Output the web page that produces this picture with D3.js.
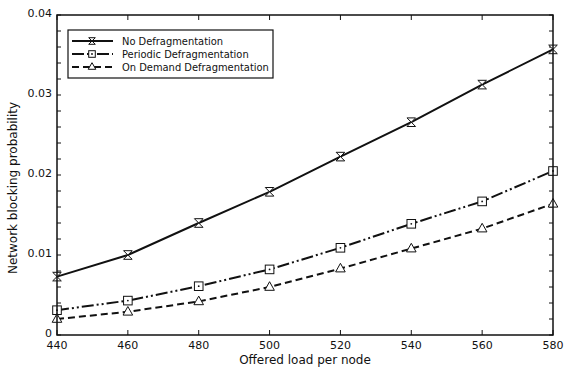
<!DOCTYPE html>
<html>
<head>
<meta charset="utf-8">
<script src="https://cdn.jsdelivr.net/npm/d3@7"></script>
<style>
  body { margin: 0; background: #fff; }
  text { font-family: "DejaVu Sans", Verdana, sans-serif; fill: #111; }
  text.legend-label { font-family: "DejaVu Sans Condensed", "DejaVu Sans", sans-serif; }
</style>
</head>
<body>
<div class="chart"></div>
<script>
var loads = [440, 460, 480, 500, 520, 540, 560, 580];
var noDefrag = [0.0073, 0.0100, 0.0140, 0.0179, 0.0223, 0.0266, 0.0313, 0.0357];
var periodicDefrag = [0.0031, 0.0043, 0.0061, 0.0082, 0.0109, 0.0139, 0.0167, 0.0205];
var onDemandDefrag = [0.0020, 0.0029, 0.0042, 0.0060, 0.0083, 0.0108, 0.0133, 0.0164];
var seriesNames = ["No Defragmentation", "Periodic Defragmentation", "On Demand Defragmentation"];
var yTicks = [0, 0.01, 0.02, 0.03, 0.04];
var yTickLabels = ["0", "0.01", "0.02", "0.03", "0.04"];

var svgWidth = 566, svgHeight = 367;
var margin = {top: 15, right: 13, bottom: 32, left: 57};
var width = svgWidth - margin.left - margin.right;
var height = svgHeight - margin.top - margin.bottom;

var svg = d3.select(".chart").append("svg")
  .attr("width", svgWidth)
  .attr("height", svgHeight);

var chartGroup = svg.append("g")
  .attr("transform", `translate(${margin.left}, ${margin.top})`);

var x = d3.scaleLinear().domain([440, 580]).range([0, width]);
var y = d3.scaleLinear().domain([0, 0.04]).range([height, 0]);

// ticks (inward) on all four sides
var minorY = d3.range(0, 0.0401, 0.002);
chartGroup.selectAll(".ytick").data(minorY).enter().append("line")
  .attr("x1", 0).attr("x2", 4)
  .attr("y1", d => y(d)).attr("y2", d => y(d))
  .attr("stroke", "#111").attr("stroke-width", 1);
chartGroup.selectAll(".ytickR").data(minorY).enter().append("line")
  .attr("x1", width).attr("x2", width - 4)
  .attr("y1", d => y(d)).attr("y2", d => y(d))
  .attr("stroke", "#111").attr("stroke-width", 1);
chartGroup.selectAll(".xtick").data(loads).enter().append("line")
  .attr("x1", d => x(d)).attr("x2", d => x(d))
  .attr("y1", height).attr("y2", height - 5)
  .attr("stroke", "#111").attr("stroke-width", 1);
chartGroup.selectAll(".xtickT").data(loads).enter().append("line")
  .attr("x1", d => x(d)).attr("x2", d => x(d))
  .attr("y1", 0).attr("y2", 5)
  .attr("stroke", "#111").attr("stroke-width", 1);

// tick labels
chartGroup.selectAll(".xlab").data(loads).enter().append("text")
  .attr("x", d => x(d)).attr("y", height + 14)
  .attr("text-anchor", "middle").attr("font-size", 11)
  .text(d => d);
chartGroup.selectAll(".ylab").data(yTicks).enter().append("text")
  .attr("x", -5).attr("y", d => y(d) + 2)
  .attr("text-anchor", "end").attr("font-size", 11)
  .text((d, i) => yTickLabels[i]);

// axis titles
chartGroup.append("text")
  .attr("x", width / 2).attr("y", height + 29)
  .attr("text-anchor", "middle").attr("font-size", 12)
  .text("Offered load per node");
chartGroup.append("text")
  .attr("transform", "rotate(-90)")
  .attr("x", -height / 2 - 13).attr("y", -40)
  .attr("text-anchor", "middle").attr("font-size", 12)
  .text("Network blocking probability");

var styles = [
  {data: noDefrag, dash: null, marker: "hourglass"},
  {data: periodicDefrag, dash: "12,3,2,3,2,3", marker: "square"},
  {data: onDemandDefrag, dash: "7,4", marker: "triangle"}
];

function drawMarker(g, type, cx, cy, s) {
  if (type === "hourglass") {
    g.append("path")
      .attr("d", `M${cx - s},${cy - s}L${cx + s},${cy - s}L${cx - s},${cy + s}L${cx + s},${cy + s}Z`)
      .attr("fill", "#fff").attr("stroke", "#111").attr("stroke-width", 1);
  } else if (type === "square") {
    g.append("rect")
      .attr("x", cx - s).attr("y", cy - s).attr("width", 2 * s).attr("height", 2 * s)
      .attr("fill", "#fff").attr("stroke", "#111").attr("stroke-width", 1);
    g.append("circle").attr("cx", cx).attr("cy", cy).attr("r", 0.9).attr("fill", "#111");
  } else {
    g.append("path")
      .attr("d", `M${cx},${cy - s - 1}L${cx + s + 0.5},${cy + s - 1}L${cx - s - 0.5},${cy + s - 1}Z`)
      .attr("fill", "#fff").attr("stroke", "#111").attr("stroke-width", 1);
  }
}

var line = d3.line().x((d, i) => x(loads[i])).y(d => y(d));

styles.forEach(function(st) {
  chartGroup.append("path")
    .datum(st.data)
    .attr("d", line)
    .attr("fill", "none")
    .attr("stroke", "#111")
    .attr("stroke-width", 2)
    .attr("stroke-dasharray", st.dash);
  var mg = chartGroup.append("g");
  st.data.forEach(function(v, i) { drawMarker(mg, st.marker, x(loads[i]), y(v), 4.3); });
});

// frame
chartGroup.append("rect")
  .attr("x", 0).attr("y", 0).attr("width", width).attr("height", height)
  .attr("fill", "none").attr("stroke", "#111").attr("stroke-width", 1.5);

// legend
var legend = chartGroup.append("g").attr("transform", "translate(11, 15)");
legend.append("rect")
  .attr("x", 0).attr("y", 0).attr("width", 205).attr("height", 48)
  .attr("fill", "#fff").attr("stroke", "#111").attr("stroke-width", 1.2);
styles.forEach(function(st, i) {
  var ly = 11 + i * 13;
  legend.append("line")
    .attr("x1", 4).attr("x2", 45).attr("y1", ly).attr("y2", ly)
    .attr("stroke", "#111").attr("stroke-width", 2)
    .attr("stroke-dasharray", st.dash);
  drawMarker(legend, st.marker, 24, ly, 3.3);
  legend.append("text")
    .attr("class", "legend-label")
    .attr("x", 54).attr("y", ly + 4)
    .attr("font-size", 11)
    .text(seriesNames[i]);
});
</script>
</body>
</html>
